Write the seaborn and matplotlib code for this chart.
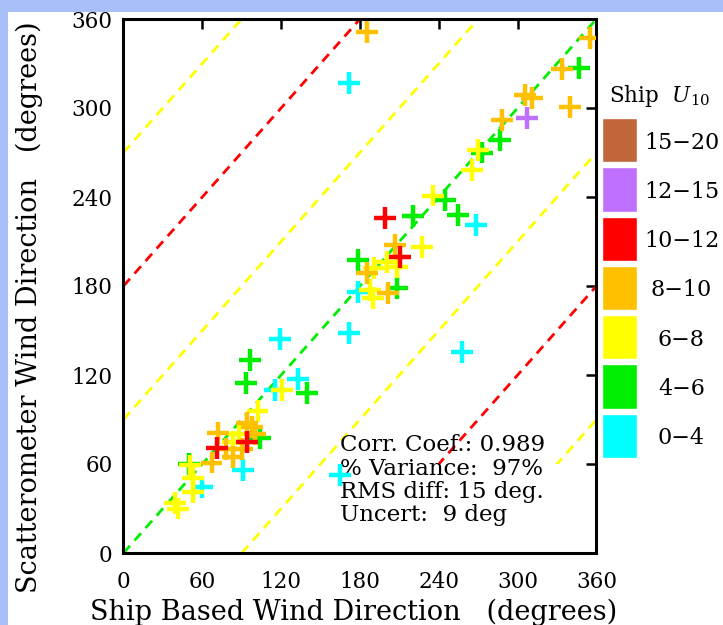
"""Scatterometer vs ship-based wind direction, coloured by ship U10 bin."""
import matplotlib.pyplot as plt
import seaborn as sns
from matplotlib.patches import Rectangle

# ---- data -------------------------------------------------------------
bin_labels = ["15\u221220", "12\u221215", "10\u221212", "8\u221210", "6\u22128", "4\u22126", "0\u22124"]
bin_colors = ["#c0663a", "#c070ff", "#ff0000", "#ffc000", "#ffff00", "#00ee00", "#00ffff"]

ship_dir = [
    # 0-4
    172, 178.5, 172, 119, 258, 268, 115, 133, 91, 59.7, 165,
    # 4-6
    347, 286.6, 273, 244.6, 254.6, 220, 178.5, 208, 96, 93, 140, 104, 50,
    # 6-8
    270, 265, 235.5, 227, 200.5, 208, 191, 187.6, 190, 120.6, 102, 83, 50.6, 53, 53, 39, 41.5, 88,
    # 8-10
    185, 355, 333.6, 340, 305.5, 311, 288, 206.6, 185, 201, 94, 98, 72, 67, 83, 78, 90, 100,
    # 10-12
    199, 210.4, 71, 94,
    # 12-15
    307,
]
scat_dir = [
    317, 176, 148, 144, 135.5, 221, 110, 117, 56, 44.5, 52.6,
    327, 278.5, 270, 238, 228, 227, 197.6, 178.7, 130, 114.6, 108, 77.5, 60,
    271.7, 258, 241, 206, 196, 193, 192, 177, 172, 110, 96, 75, 59, 50.6, 41, 33.7, 30, 80,
    351, 347, 326, 300.7, 309, 307, 292, 207.7, 189, 175, 87.7, 85, 81, 61, 65, 70, 70, 80,
    226, 199.6, 70.8, 75,
    293,
]
speed_bin = (["0\u22124"] * 11 + ["4\u22126"] * 13 + ["6\u22128"] * 18
             + ["8\u221210"] * 18 + ["10\u221212"] * 4 + ["12\u221215"] * 1)

# reference lines y = x + offset
guide_offsets = [0, 90, -90, 180, -180, 270, -270]
guide_colors = ["#00ee00", "#ffff00", "#ffff00", "#ff0000", "#ff0000", "#ffff00", "#ffff00"]

stats_text = "Corr. Coef.: 0.989\n% Variance:  97%\nRMS diff: 15 deg.\nUncert:  9 deg"

# ---- style ------------------------------------------------------------
sns.set_style("white")
plt.rcParams["font.family"] = ["DejaVu Serif"]
plt.rcParams["mathtext.fontset"] = "dejavuserif"
plt.rcParams["text.color"] = "black"
plt.rcParams["axes.labelcolor"] = "black"

fig = plt.figure(figsize=(7.23, 6.25), dpi=100, facecolor="#a9bff9")
fig.patches.append(Rectangle((8 / 723, 0), 1, 613 / 625, transform=fig.transFigure,
                             facecolor="white", edgecolor="none", zorder=-1))

ax = fig.add_axes([0.1708, 0.1152, 0.6542, 0.8544])

for off, col in zip(guide_offsets, guide_colors):
    x0, x1 = max(0, -off), min(360, 360 - off)
    ax.plot([x0, x1], [x0 + off, x1 + off], color=col, lw=2, dashes=[3.5, 2.5], zorder=1)

# white panel behind the statistics
ax.add_patch(Rectangle((168, 0), 175, 60, facecolor="white", edgecolor="none", zorder=2))
ax.text(165, 80, stats_text, fontsize=16.5, va="top", ha="left", linespacing=1.08, zorder=2.5)

sns.scatterplot(x=ship_dir, y=scat_dir, hue=speed_bin, hue_order=bin_labels,
                palette=dict(zip(bin_labels, bin_colors)), marker="+", s=250, linewidth=3.2,
                legend=False, ax=ax, zorder=3)

ax.set_xlim(0, 360)
ax.set_ylim(0, 360)
ax.set_xticks(range(0, 361, 60))
ax.set_yticks(range(0, 361, 60))
ax.tick_params(axis="both", direction="in", length=7, width=1.8, labelsize=15.5,
               top=True, right=True, colors="black")
ax.tick_params(axis="x", pad=13)
ax.tick_params(axis="y", pad=8)
for sp in ax.spines.values():
    sp.set_linewidth(2.2)
    sp.set_color("black")

ax.set_xlabel("Ship Based Wind Direction   (degrees)", fontsize=19.5)
ax.set_ylabel("Scatterometer Wind Direction   (degrees)", fontsize=19.5)
ax.xaxis.set_label_coords(0.487, -0.085)
ax.yaxis.set_label_coords(-0.17, 0.46)

# ---- colour key -------------------------------------------------------
lax = fig.add_axes([602 / 723, 0.2635, 35 / 723, 0.5514])
lax.barh(range(len(bin_labels)), 1, height=0.9, color=bin_colors)
lax.set_xlim(0, 1)
lax.set_ylim(len(bin_labels) - 0.5, -0.5)
lax.set_yticks(range(len(bin_labels)))
lax.set_yticklabels(bin_labels)
lax.yaxis.tick_right()
lax.tick_params(axis="y", length=0, pad=32, labelsize=16, colors="black")
for lbl in lax.get_yticklabels():
    lbl.set_horizontalalignment("center")
lax.set_xticks([])
for sp in lax.spines.values():
    sp.set_visible(False)
lax.patch.set_alpha(0)
lax.text(1.65, 1.02, "Ship  $U_{10}$", transform=lax.transAxes, ha="center", va="bottom", fontsize=15.5)

fig.savefig("out.png", dpi=100, facecolor=fig.get_facecolor())
